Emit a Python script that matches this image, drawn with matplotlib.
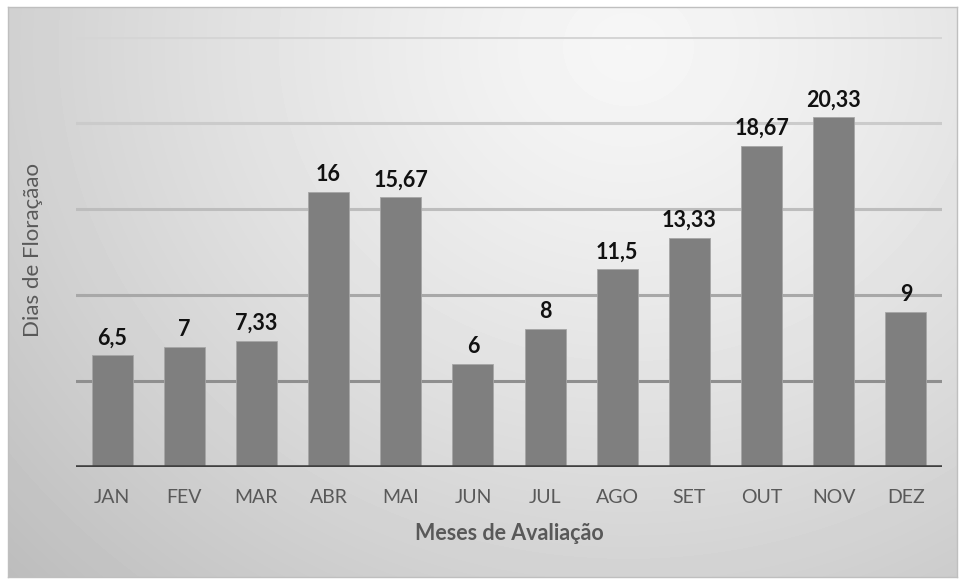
import numpy as np
import matplotlib.pyplot as plt

plt.rcParams['font.family'] = ['Lato', 'DejaVu Sans']

meses = ['JAN', 'FEV', 'MAR', 'ABR', 'MAI', 'JUN', 'JUL', 'AGO', 'SET', 'OUT', 'NOV', 'DEZ']
dias = [6.5, 7, 7.33, 16, 15.67, 6, 8, 11.5, 13.33, 18.67, 20.33, 9]
rotulos = ['6,5', '7', '7,33', '16', '15,67', '6', '8', '11,5', '13,33', '18,67', '20,33', '9']
grid_y = [5, 10, 15, 20, 25]

fig = plt.figure(figsize=(9.6, 5.79), dpi=100)
fig.patch.set_facecolor('white')

# radial gradient background of the chart area
bg = fig.add_axes([8/960, 1-577/579, 949/960, 570/579])
yy, xx = np.mgrid[0:570, 0:949]
r = np.sqrt(((xx - 620) / 780.0) ** 2 + ((yy - 40) / 700.0) ** 2)
img = 0.965 - 0.2 * np.clip(r, 0, 1.2) ** 1.3
bg.imshow(img, cmap='gray', vmin=0, vmax=1, aspect='auto', interpolation='bilinear')
bg.set_xticks([])
bg.set_yticks([])
for s in bg.spines.values():
    s.set_color('#bfbfbf')
    s.set_linewidth(1)

ax = fig.add_axes([76/960, 1-467/579, 866/960, 430/579])
ax.set_facecolor('none')
ax.set_xlim(-0.5, 11.5)
ax.set_ylim(0, 25)

grid_cols = ['#8f8f8f', '#a8a8a8', '#bdbdbd', '#cbcbcb', '#d5d5d5']
for g, c in zip(grid_y, grid_cols):
    ax.axhline(g, color=c, lw=2.2, zorder=1)

x = np.arange(len(meses))
ax.bar(x, dias, width=0.57, color='#7f7f7f', edgecolor='#a6a6a6', linewidth=0.6, zorder=2)
ax.axhline(0, color='#404040', lw=2.6, zorder=3)

for xi, v, t in zip(x, dias, rotulos):
    ax.annotate(t, (xi, v), xytext=(0, 5), textcoords='offset points',
                ha='center', va='bottom', fontsize=15.5, fontweight='bold', color='#111111')

ax.set_xticks(x)
ax.set_xticklabels(meses, fontsize=14, color='#595959')
ax.tick_params(axis='x', length=0, pad=16)
ax.set_yticks([])
for s in ax.spines.values():
    s.set_visible(False)

ax.set_xlabel('Meses de Avaliação', fontsize=15.5, fontweight='bold', color='#595959', labelpad=12)
fig.text(33/960, 1-250/579, 'Dias de Floraçãao', rotation=90, ha='center', va='center',
         fontsize=16, color='#595959')

fig.savefig('out.png', dpi=100)
